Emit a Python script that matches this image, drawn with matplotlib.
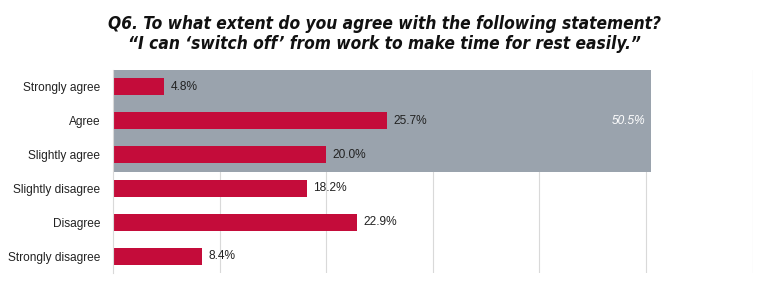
import matplotlib.pyplot as plt
from matplotlib.patches import Rectangle

# data
categories = ['Strongly agree', 'Agree', 'Slightly agree',
              'Slightly disagree', 'Disagree', 'Strongly disagree']
values = [4.8, 25.7, 20.0, 18.2, 22.9, 8.4]
agree_total = 50.5
title_lines = ['Q6. To what extent do you agree with the following statement?',
               '\u201cI can \u2018switch off\u2019 from work to make time for rest easily.\u201d']

plt.rcParams['font.family'] = ['Liberation Sans', 'DejaVu Sans']

fig = plt.figure(figsize=(7.68, 2.88), dpi=100)
ax = fig.add_axes([0.147, 0.052, 0.833, 0.705])

ypos = list(range(len(categories)))

# gray box for net agree
ax.add_patch(Rectangle((0, -0.5), agree_total, 3, facecolor='#9AA3AD',
                       edgecolor='none', zorder=1))
ax.text(agree_total - 0.6, 1, f'{agree_total:.1f}%', ha='right', va='center',
        color='white', fontsize=8.6, style='italic', zorder=3)

ax.barh(ypos, values, height=0.5, color='#C40C3A', zorder=2)
for y, v in zip(ypos, values):
    ax.text(v + 0.6, y, f'{v:.1f}%', va='center', ha='left',
            fontsize=8.6, color='#222222', zorder=3)

ax.set_xlim(0, 60)
ax.set_ylim(5.5, -0.5)
ax.set_yticks(ypos)
ax.set_yticklabels(categories, fontsize=8.6, color='#222222')
ax.set_xticks(range(10, 61, 10))
ax.tick_params(axis='x', length=0, labelbottom=False)
ax.tick_params(axis='y', length=0, pad=9)
ax.grid(axis='x', color='#D9D9D9', linewidth=0.8, zorder=0)
ax.set_axisbelow(True)
for s in ['top', 'right', 'bottom']:
    ax.spines[s].set_visible(False)
ax.spines['left'].set_color('#D9D9D9')

# title, two lines
for yy, line in zip([0.899, 0.830], title_lines):
    fig.text(0.5, yy, line, ha='center', va='baseline', fontsize=12.4,
             fontweight='bold', style='italic', color='#111111',
             fontstretch='condensed', family=['DejaVu Sans', 'Liberation Sans'])

fig.savefig('out.png', dpi=100)
